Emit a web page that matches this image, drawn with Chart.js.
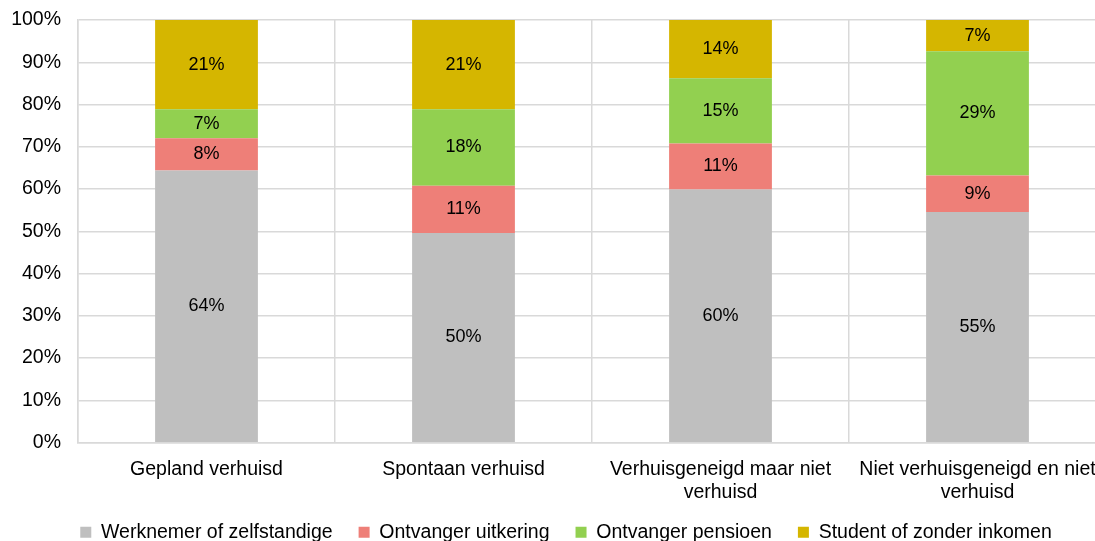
<!DOCTYPE html>
<html>
<head>
<meta charset="utf-8">
<script src="https://cdn.jsdelivr.net/npm/chart.js@4.4.0/dist/chart.umd.min.js"></script>
<style>
  html, body { margin: 0; padding: 0; background: #fff; overflow: hidden; }
  #wrap { width: 1132px; height: 541px; }
</style>
</head>
<body>
<div id="wrap"><canvas id="chart"></canvas></div>
<script>
const categories = [
  'Gepland verhuisd',
  'Spontaan verhuisd',
  ['Verhuisgeneigd maar niet', 'verhuisd'],
  ['Niet verhuisgeneigd en niet', 'verhuisd']
];
const seriesNames = ['Werknemer of zelfstandige', 'Ontvanger uitkering', 'Ontvanger pensioen', 'Student of zonder inkomen'];
const werknemer = [64.4, 49.6, 59.9, 54.6];
const uitkering = [7.6, 11.2, 10.9, 8.6];
const pensioen = [6.9, 18.1, 15.4, 29.4];
const student = [21.1, 21.1, 13.8, 7.4];
const colors = ['#bfbfbf', '#ee7f78', '#92d050', '#d5b600'];
const yTicks = [0, 10, 20, 30, 40, 50, 60, 70, 80, 90, 100];

const font = 'Liberation Sans, Arial, sans-serif';

const barLabels = {
  id: 'barLabels',
  afterDatasetsDraw(chart) {
    const ctx = chart.ctx;
    ctx.save();
    ctx.font = '18px ' + font;
    ctx.fillStyle = '#000';
    ctx.textAlign = 'center';
    ctx.textBaseline = 'middle';
    chart.data.datasets.forEach((ds, i) => {
      chart.getDatasetMeta(i).data.forEach((bar, j) => {
        const y = (bar.y + bar.base) / 2;
        ctx.fillText(Math.round(ds.data[j]) + '%', bar.x, y);
      });
    });
    ctx.restore();
  }
};

// legend sits centred on the whole canvas, not on the padded area;
// x labels are allowed to run below the squeezed axis box
const fixLayout = {
  id: 'fixLayout',
  afterLayout(chart) {
    chart.legend.left += 13;
    chart.legend.right += 13;
    chart.scales.x.bottom += 30;
  }
};

new Chart(document.getElementById('chart'), {
  type: 'bar',
  data: {
    labels: categories,
    datasets: [werknemer, uitkering, pensioen, student].map((d, i) => ({
      label: seriesNames[i],
      data: d,
      backgroundColor: colors[i],
      borderWidth: 0,
      categoryPercentage: 1,
      barPercentage: 0.4
    }))
  },
  options: {
    responsive: true,
    maintainAspectRatio: false,
    animation: false,
    layout: { padding: { top: 0, right: 26, left: 0, bottom: -11 } },
    scales: {
      x: {
        stacked: true,
        grid: { color: '#d9d9d9', lineWidth: 1.5, drawTicks: false, offset: true },
        border: { color: '#d9d9d9', width: 1.5 },
        ticks: { color: '#000', font: { family: font, size: 19.5, lineHeight: 1.15 }, padding: 16, maxRotation: 0, autoSkip: false },
        afterFit(scale) { scale.height -= 23; }
      },
      y: {
        stacked: true,
        min: 0,
        max: 100,
        afterBuildTicks(axis) { axis.ticks = yTicks.map(v => ({ value: v })); },
        afterFit(scale) { scale.width = 78; scale.paddingTop = 20; },
        grid: { color: '#d9d9d9', lineWidth: 1.5, drawTicks: false },
        border: { color: '#d9d9d9', width: 1.5 },
        ticks: { color: '#000', font: { family: font, size: 19.5 }, padding: 17, callback: v => v + '%' }
      }
    },
    plugins: {
      legend: {
        position: 'bottom',
        labels: {
          color: '#000',
          font: { family: font, size: 19.5 },
          boxWidth: 11,
          boxHeight: 11,
          padding: 26
        }
      },
      tooltip: { enabled: false }
    }
  },
  plugins: [barLabels, fixLayout]
});
</script>
</body>
</html>
